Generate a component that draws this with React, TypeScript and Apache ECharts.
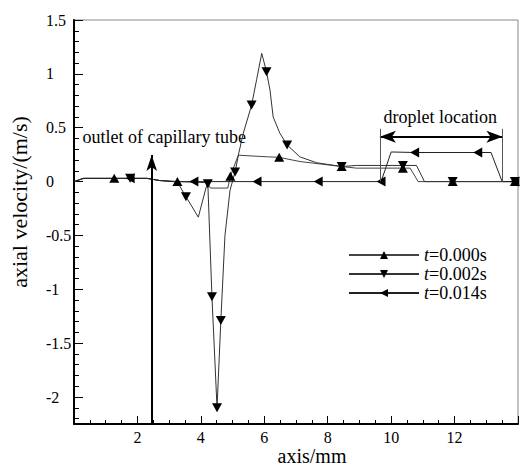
import React, { useEffect, useRef } from 'react';
import * as echarts from 'echarts';

const FONT = 'Liberation Serif';

const seriesNames = ['t=0.000s', 't=0.002s', 't=0.014s'];

const xTicks = [0, 2, 4, 6, 8, 10, 12, 14];
const yMajorTicks = [-2, -1.5, -1, -0.5, 0, 0.5, 1, 1.5];

// [axis position (mm), axial velocity (m/s), marker shown (1) or not (0)]
const t000: [number, number, number][] = [
  [0, 0, 0], [0.3, 0.03, 0], [1.27, 0.03, 1], [2.3, 0.03, 0], [2.7, 0.01, 0], [3.26, 0, 1],
  [4.2, -0.01, 0], [4.3, -0.06, 0], [4.85, -0.06, 0], [4.93, 0.05, 1], [5.18, 0.245, 0],
  [6.1, 0.23, 0], [6.47, 0.225, 1], [7.13, 0.186, 0], [8.44, 0.14, 1], [8.9, 0.125, 0],
  [10.37, 0.125, 1], [10.6, 0.125, 0], [10.85, 0, 0], [11.94, 0, 1], [13.9, 0, 1], [14, 0, 0],
];

const t002: [number, number, number][] = [
  [0, 0, 0], [0.3, 0.03, 0], [1.77, 0.03, 1], [2.3, 0.03, 0], [2.7, 0.01, 0], [3.25, 0, 0],
  [3.53, -0.14, 1], [3.92, -0.33, 0], [4.16, -0.06, 0], [4.22, -0.02, 1], [4.35, -1.07, 1],
  [4.51, -2.1, 1], [4.63, -1.29, 1], [4.76, -0.5, 0], [4.92, -0.08, 0], [5.08, 0.09, 1],
  [5.2, 0.27, 0], [5.34, 0.45, 0], [5.6, 0.71, 1], [5.76, 0.95, 0], [5.92, 1.19, 0],
  [6.07, 1.02, 1], [6.18, 0.85, 0], [6.28, 0.6, 0], [6.49, 0.45, 0], [6.72, 0.34, 1],
  [7.12, 0.23, 0], [7.65, 0.175, 0], [8.44, 0.14, 1], [8.9, 0.15, 0], [10.37, 0.15, 1],
  [10.8, 0.15, 0], [11.05, 0, 0], [11.94, 0, 1], [13.9, 0, 1], [14, 0, 0],
];

const t014: [number, number, number][] = [
  [0, 0, 0], [0.3, 0.03, 0], [1.77, 0.03, 1], [2.3, 0.03, 0], [2.7, 0.01, 0], [3.1, 0, 0],
  [3.78, 0, 1], [5.77, 0, 1], [7.7, 0, 1], [9.68, 0, 1], [9.8, 0.1, 0],
  [10.0, 0.275, 0], [10.74, 0.27, 1], [12.73, 0.27, 1], [13.15, 0.27, 0], [13.5, 0, 0],
  [13.9, 0, 1], [14, 0, 0],
];

// annotation anchors (data coordinates)
const outletX = 2.45;
const outletTipY = 0.247;
const dropletStart = 9.645;
const dropletEnd = 13.51;
const dropletArrowY = 0.417;
const dropletLineTop = 0.49;

const SYM_UP = 'triangle';
const SYM_DOWN = 'path://M0,0L10,0L5,9Z';
const SYM_LEFT = 'path://M0,5L9,0L9,10Z';

function toData(arr: [number, number, number][]) {
  return arr.map(([x, y, m]) => (m ? { value: [x, y] } : { value: [x, y], symbol: 'none' }));
}

const minorY: number[] = [];
for (let i = -22; i <= 14; i++) {
  if (i % 5 !== 0) minorY.push(Math.round(i) / 10);
}

export default function App() {
  const ref = useRef<HTMLDivElement>(null);
  useEffect(() => {
    if (!ref.current) return;
    const chart = echarts.init(ref.current, undefined, { renderer: 'svg' });
    const lineSeries = (name: string, arr: [number, number, number][], symbol: string, size: number[], color: string) => ({
      name,
      type: 'line',
      data: toData(arr),
      symbol,
      symbolSize: size,
      showAllSymbol: true,
      itemStyle: { color: '#000' },
      lineStyle: { color, width: 1 },
      z: 3,
    });
    const option: any = {
      animation: false,
      backgroundColor: '#fff',
      textStyle: { fontFamily: FONT },
      grid: { left: 74, right: 11, top: 20, bottom: 45, show: true, borderColor: '#888', borderWidth: 1, backgroundColor: 'transparent' },
      xAxis: {
        type: 'value', min: 0, max: 14, interval: 2,
        axisLine: { show: true, onZero: false, lineStyle: { color: '#000', width: 2 } },
        axisTick: { show: true, inside: true, length: 8, lineStyle: { color: '#000', width: 1 } },
        minorTick: { show: true, splitNumber: 4, length: 4, lineStyle: { color: '#000', width: 1 } },
        splitLine: { show: false },
        axisLabel: {
          showMinLabel: false, showMaxLabel: false, margin: 5,
          fontFamily: FONT, fontSize: 16, color: '#000',
          formatter: (v: number) => (v === xTicks[0] || v === xTicks[xTicks.length - 1] ? '' : String(v)),
        },
      },
      yAxis: [
        {
          type: 'value', min: -2.25, max: 1.5,
          axisLine: { show: true, onZero: false, lineStyle: { color: '#000', width: 2 } },
          axisTick: { show: true, inside: true, length: 9, customValues: yMajorTicks, lineStyle: { color: '#000', width: 1 } },
          splitLine: { show: false },
          axisLabel: {
            customValues: yMajorTicks, align: 'left', margin: 28,
            fontFamily: FONT, fontSize: 16, color: '#000',
            formatter: (v: number) => String(v),
          },
        },
        {
          type: 'value', min: -2.25, max: 1.5, position: 'left',
          axisLine: { show: false, onZero: false },
          axisTick: { show: true, inside: true, length: 5, customValues: minorY, lineStyle: { color: '#000', width: 1 } },
          splitLine: { show: false },
          axisLabel: { show: false },
        },
      ],
      legend: {
        data: seriesNames,
        orient: 'vertical',
        left: 348,
        top: 246,
        padding: 0,
        itemWidth: 70,
        itemHeight: 10,
        itemGap: 1,
        textStyle: {
          fontFamily: FONT, fontSize: 18, color: '#000', lineHeight: 18,
          rich: { i: { fontFamily: FONT, fontSize: 18, color: '#000', fontStyle: 'italic', lineHeight: 18 } },
        },
        formatter: (n: string) => '{i|t}' + n.slice(1),
      },
      series: [
        lineSeries(seriesNames[0], t000, SYM_UP, [10, 9], '#444'),
        lineSeries(seriesNames[1], t002, SYM_DOWN, [10, 9], '#333'),
        lineSeries(seriesNames[2], t014, SYM_LEFT, [9, 10], '#222'),
        {
          name: 'annotations',
          type: 'line',
          data: [],
          silent: true,
          markLine: {
            silent: true,
            animation: false,
            label: { show: false },
            symbol: ['none', 'none'],
            data: [
              [
                { coord: [outletX, -2.25], symbol: 'none', lineStyle: { color: '#000', width: 2, type: 'solid' } },
                { coord: [outletX, outletTipY], symbol: 'arrow', symbolSize: [8, 16] },
              ],
              [
                { coord: [dropletStart, dropletArrowY], symbol: 'arrow', symbolSize: [9, 16], lineStyle: { color: '#000', width: 2, type: 'solid' } },
                { coord: [dropletEnd, dropletArrowY], symbol: 'arrow', symbolSize: [9, 16] },
              ],
              [
                { coord: [dropletStart, 0], symbol: 'none', lineStyle: { color: '#555', width: 1, type: 'solid' } },
                { coord: [dropletStart, dropletLineTop], symbol: 'none' },
              ],
              [
                { coord: [dropletEnd, 0], symbol: 'none', lineStyle: { color: '#555', width: 1, type: 'solid' } },
                { coord: [dropletEnd, dropletLineTop], symbol: 'none' },
              ],
            ],
          },
        },
      ],
    };
    chart.setOption(option);
    const p1 = chart.convertToPixel({ gridIndex: 0 }, [0.27, 0.415]) as number[];
    const p2 = chart.convertToPixel({ gridIndex: 0 }, [11.55, 0.603]) as number[];
    chart.setOption({
      graphic: [
        { type: 'text', x: p1[0], y: p1[1], style: { text: 'outlet of capillary tube', fontFamily: FONT, fontSize: 18, fill: '#000', align: 'left', verticalAlign: 'middle' } },
        { type: 'text', x: p2[0], y: p2[1], style: { text: 'droplet location', fontFamily: FONT, fontSize: 18, fill: '#000', align: 'center', verticalAlign: 'middle' } },
        { type: 'text', x: 312, y: 456, style: { text: 'axis/mm', fontFamily: FONT, fontSize: 20, fill: '#000', align: 'center', verticalAlign: 'middle' } },
        { type: 'text', x: 19, y: 202, rotation: Math.PI / 2, style: { text: 'axial velocity/(m/s)', fontFamily: FONT, fontSize: 22, fill: '#000', align: 'center', verticalAlign: 'middle' } },
      ],
    });
    return () => chart.dispose();
  }, []);
  return <div ref={ref} style={{ position: 'fixed', left: 0, top: 0, width: 529, height: 469, background: '#fff' }} />;
}
